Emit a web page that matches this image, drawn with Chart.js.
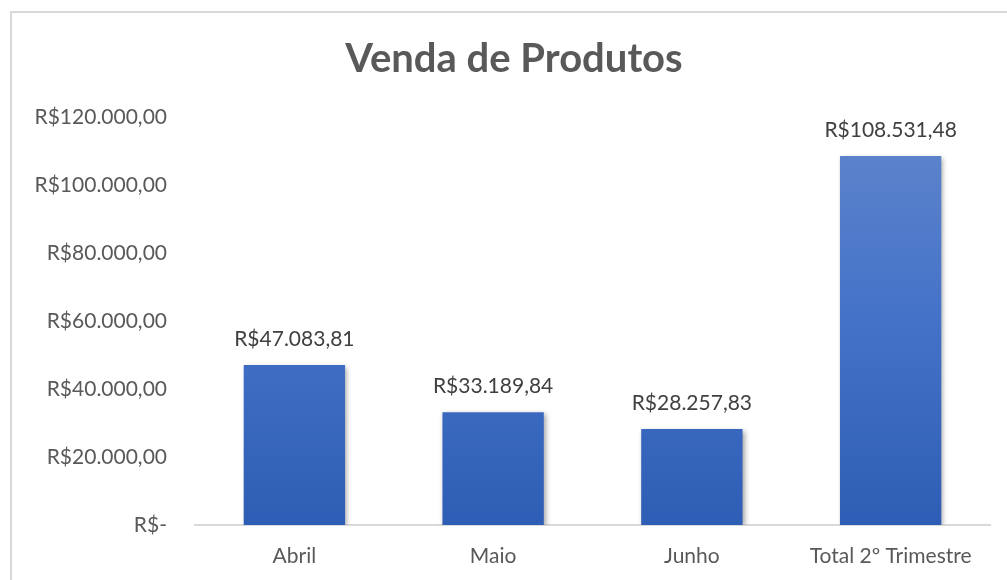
<!DOCTYPE html>
<html>
<head>
<meta charset="utf-8">
<script src="https://cdn.jsdelivr.net/npm/chart.js@4"></script>
<style>
  html, body { margin: 0; padding: 0; background: #fff; }
  #wrap { width: 1007px; height: 580px; position: relative; }
</style>
</head>
<body>
<div id="wrap"><canvas id="salesChart" width="1007" height="580"></canvas></div>
<script>
// dados do gráfico
const categorias = ['Abril', 'Maio', 'Junho', 'Total 2º Trimestre'];
const vendas = [47083.81, 33189.84, 28257.83, 108531.48];
const yTicks = [0, 20000, 40000, 60000, 80000, 100000, 120000];
const titulo = 'Venda de Produtos';

function formatBRL(v) {
    if (v === 0) return 'R$-';
    const parts = v.toFixed(2).split('.');
    const inteiro = parts[0].replace(/\B(?=(\d{3})+(?!\d))/g, '.');
    return 'R$' + inteiro + ',' + parts[1];
}

const fonte = "Lato, 'Open Sans', sans-serif";

// borda e título do gráfico
const bordaPlugin = {
    id: 'borda',
    beforeDraw(chart) {
        const ctx = chart.ctx;
        ctx.save();
        ctx.strokeStyle = '#d9d9d9';
        ctx.lineWidth = 2;
        ctx.strokeRect(11, 12, chart.width + 20, chart.height + 20);
        ctx.font = 'bold 40px ' + fonte;
        ctx.fillStyle = '#595959';
        ctx.textAlign = 'center';
        ctx.textBaseline = 'middle';
        ctx.fillText(titulo, 514, 59);
        ctx.restore();
    }
};

// sombra nas barras
const sombraPlugin = {
    id: 'sombra',
    beforeDatasetsDraw(chart) {
        const ctx = chart.ctx;
        ctx.save();
        ctx.shadowColor = 'rgba(0,0,0,0.35)';
        ctx.shadowBlur = 5;
        ctx.shadowOffsetX = 2;
        ctx.shadowOffsetY = 2;
    },
    afterDatasetsDraw(chart) {
        chart.ctx.restore();
    }
};

// rótulos de dados acima das barras
const rotulosPlugin = {
    id: 'rotulos',
    afterDatasetsDraw(chart) {
        const ctx = chart.ctx;
        const meta = chart.getDatasetMeta(0);
        ctx.save();
        ctx.font = '21px ' + fonte;
        ctx.fillStyle = '#404040';
        ctx.textAlign = 'center';
        ctx.textBaseline = 'middle';
        meta.data.forEach((bar, i) => {
            ctx.fillText(formatBRL(vendas[i]), bar.x, bar.y - 26);
        });
        ctx.restore();
    }
};

function gradiente(context) {
    const chart = context.chart;
    const area = chart.chartArea;
    if (!area) return '#4472c4';
    const g = chart.ctx.createLinearGradient(0, area.top, 0, area.bottom);
    g.addColorStop(0, '#6086cc');
    g.addColorStop(0.5, '#4472c8');
    g.addColorStop(1, '#2e5db5');
    return g;
}

const ctx = document.getElementById('salesChart').getContext('2d');
new Chart(ctx, {
    type: 'bar',
    data: {
        labels: categorias,
        datasets: [{
            label: 'Vendas',
            data: vendas,
            backgroundColor: gradiente,
            borderWidth: 0,
            barPercentage: 0.51,
            categoryPercentage: 1.0
        }]
    },
    plugins: [bordaPlugin, sombraPlugin, rotulosPlugin],
    options: {
        responsive: false,
        animation: false,
        layout: { padding: { left: 20, right: 17, top: 117, bottom: 0 } },
        plugins: {
            legend: { display: false },
            tooltip: { enabled: false },
            title: { display: false }
        },
        scales: {
            x: {
                grid: { display: false },
                border: { color: '#d9d9d9', width: 2 },
                afterFit(axis) {
                    axis.height = 55;
                },
                ticks: {
                    color: '#595959',
                    font: { family: fonte, size: 21 },
                    padding: 11,
                    maxRotation: 0
                }
            },
            y: {
                min: 0,
                max: 120000,
                afterBuildTicks(axis) {
                    axis.ticks = yTicks.map(v => ({ value: v }));
                },
                afterFit(axis) {
                    axis.width = 175;
                },
                grid: { display: false },
                border: { display: false },
                ticks: {
                    color: '#595959',
                    font: { family: fonte, size: 21 },
                    padding: 20,
                    callback: v => formatBRL(v)
                }
            }
        }
    }
});
</script>
</body>
</html>
